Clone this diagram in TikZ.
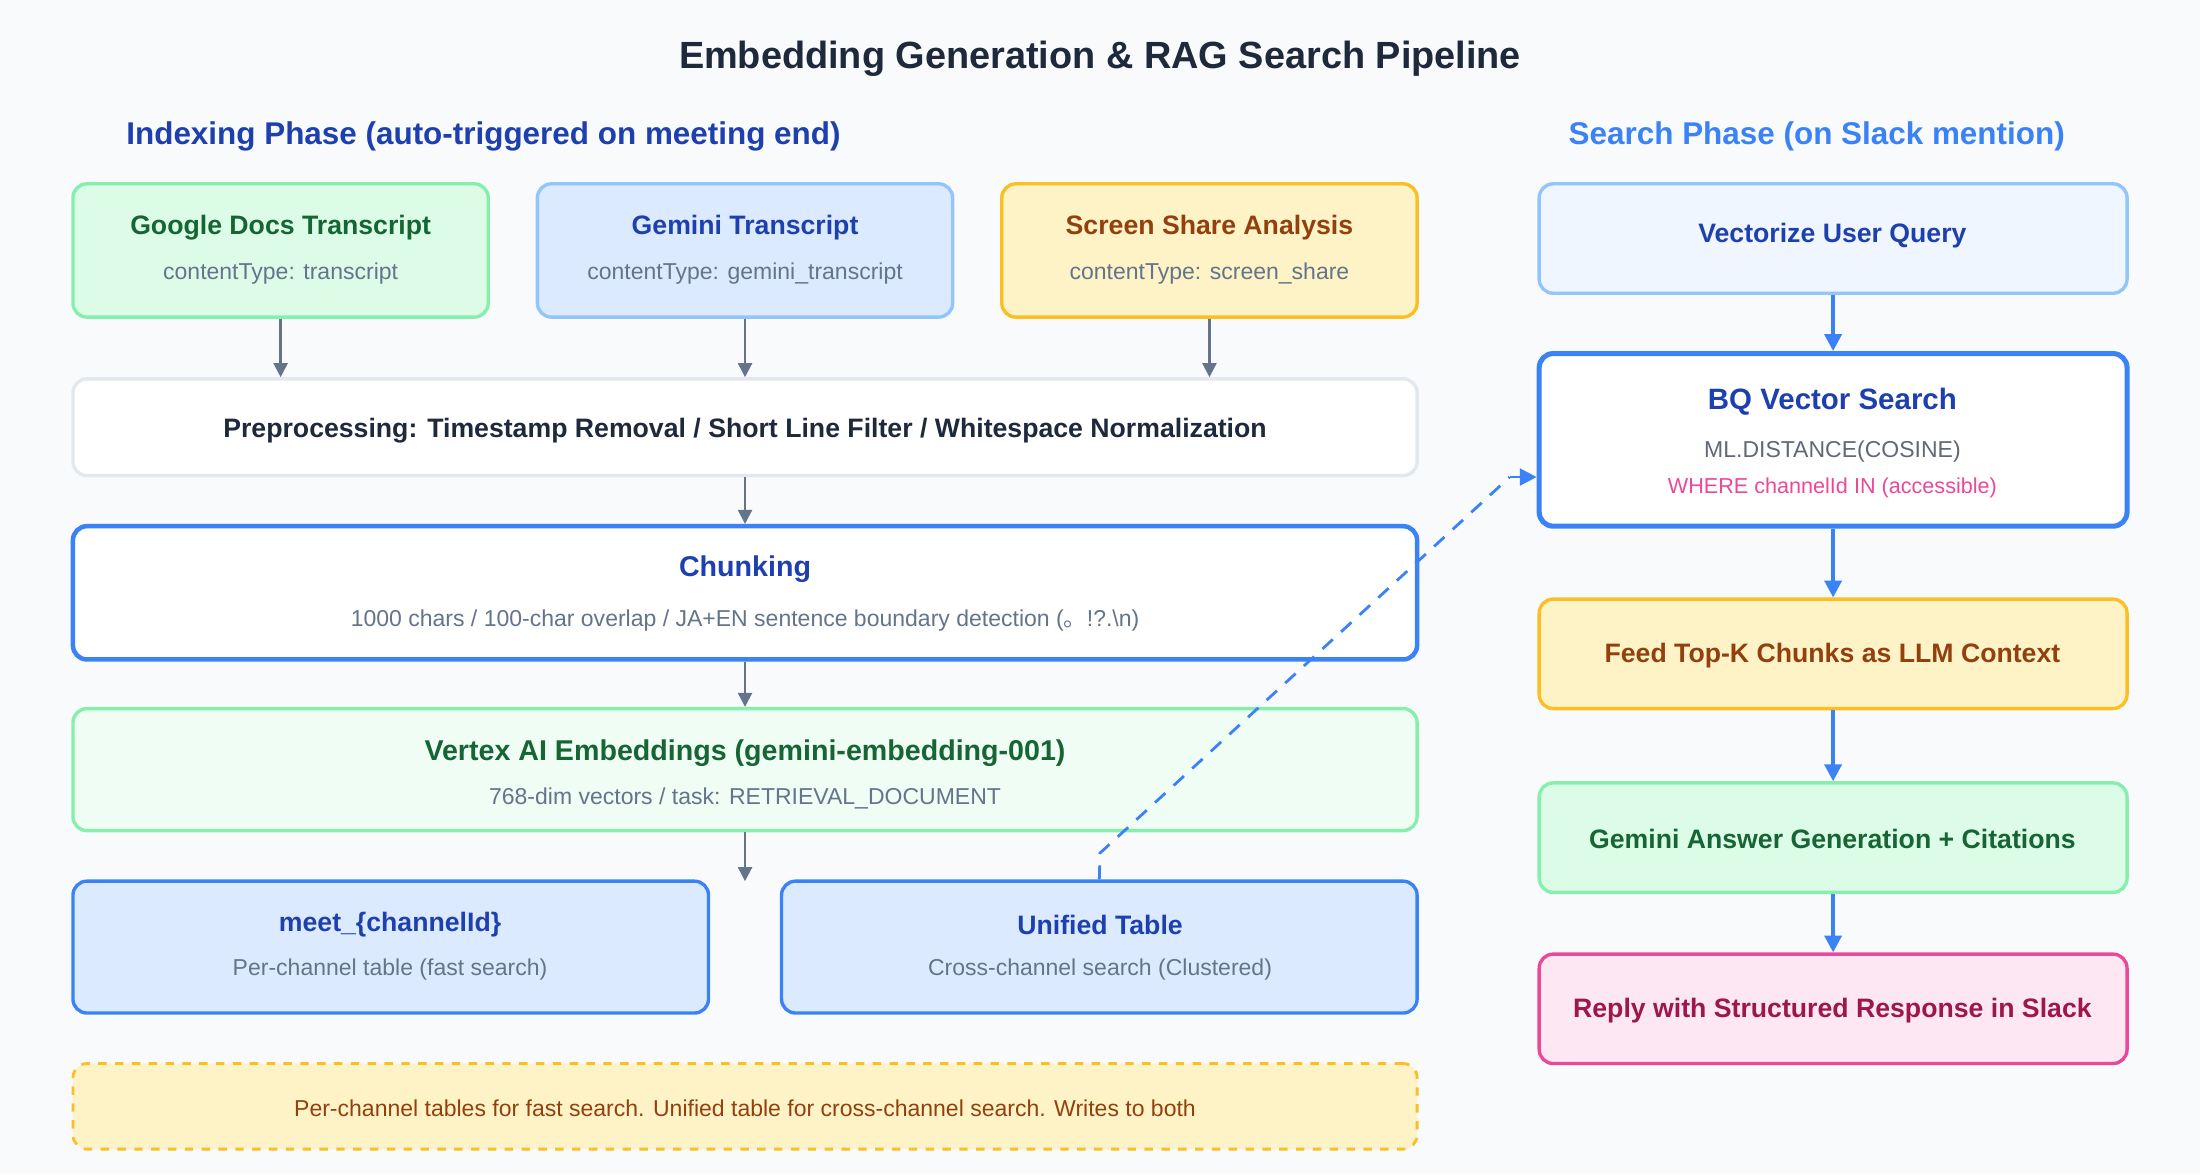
\documentclass[tikz,border=0pt]{standalone}
\usepackage{fontspec}
\setmainfont{Liberation Sans}
\newfontfamily\cjk{Noto Sans CJK JP}
\usetikzlibrary{arrows.meta}
\definecolor{bg}{HTML}{F8FAFC}
\definecolor{ink}{HTML}{1E293B}
\definecolor{sub}{HTML}{64748B}
\definecolor{dblue}{HTML}{1E40AF}
\definecolor{mblue}{HTML}{3B82F6}
\definecolor{lblue}{HTML}{93C5FD}
\definecolor{fblue}{HTML}{DBEAFE}
\definecolor{fblue2}{HTML}{EFF6FF}
\definecolor{dgreen}{HTML}{166534}
\definecolor{lgreen}{HTML}{86EFAC}
\definecolor{fgreen}{HTML}{DCFCE7}
\definecolor{fgreen2}{HTML}{F0FDF4}
\definecolor{dorange}{HTML}{92400E}
\definecolor{lorange}{HTML}{FBBF24}
\definecolor{forange}{HTML}{FEF3C7}
\definecolor{dpink}{HTML}{9D174D}
\definecolor{lpink}{HTML}{EC4899}
\definecolor{fpink}{HTML}{FCE7F3}
\definecolor{gline}{HTML}{E2E8F0}
\definecolor{garrow}{HTML}{64748B}
\tikzset{
 box/.style={rounded corners=5pt, draw, line width=1.2pt, inner sep=0pt},
 ttl/.style={font=\fontsize{9.5}{11}\selectfont\bfseries},
 sb/.style={font=\fontsize{8.2}{10}\selectfont, text=sub},
 garr/.style={-{Triangle[length=5pt,width=5pt]}, draw=garrow, line width=0.8pt},
 barr/.style={-{Triangle[length=6pt,width=6pt]}, draw=mblue, line width=1.4pt},
}
\newcommand{\bx}[6]{% name, x1,y1,x2,y2, style
 \node[box,#6,minimum width={(#4-#2)*0.5pt},minimum height={(#5-#3)*0.5pt}] (#1) at ({(#2+#4)/2},{(#3+#5)/2}) {};}
\begin{document}
\begin{tikzpicture}[x=0.5pt,y=-0.5pt]
\fill[bg] (0,0) rectangle (1568,837);
\useasboundingbox (0,0) rectangle (1568,837);
\node[font=\fontsize{13.5}{15}\selectfont\bfseries,text=ink] (title) at (784,42) {Embedding Generation \& RAG Search Pipeline};
\node[font=\fontsize{11.2}{13}\selectfont\bfseries,text=dblue,anchor=west] (ph1) at (83,97) {Indexing Phase (auto-triggered on meeting end)};
\node[font=\fontsize{11.2}{13}\selectfont\bfseries,text=mblue,anchor=west] (ph2) at (1111,97) {Search Phase (on Slack mention)};
\bx{gd}{52}{131}{348}{226}{draw=lgreen,fill=fgreen}
\bx{gt}{383}{131}{679}{226}{draw=lblue,fill=fblue}
\bx{ss}{714}{131}{1010}{226}{draw=lorange,fill=forange}
\node[ttl,text=dgreen] (gd1) at (200,162) {Google Docs Transcript};
\node[sb] (gd2) at (200,195) {contentType: transcript};
\node[ttl,text=dblue] (gt1) at (531,162) {Gemini Transcript};
\node[sb] (gt2) at (531,195) {contentType: gemini\_transcript};
\node[ttl,text=dorange] (ss1) at (862,162) {Screen Share Analysis};
\node[sb] (ss2) at (862,195) {contentType: screen\_share};
\bx{pp}{52}{270}{1010}{339}{draw=gline,fill=white}
\node[ttl,text=ink] (pp1) at (531,307) {Preprocessing: Timestamp Removal / Short Line Filter / Whitespace Normalization};
\bx{ch}{52}{375}{1010}{470}{draw=mblue,fill=white,line width=1.6pt}
\node[ttl,text=dblue,font=\fontsize{10.2}{12}\selectfont\bfseries] (ch1) at (531,406) {Chunking};
\node[sb] (ch2) at (531,442) {1000 chars / 100-char overlap / JA+EN sentence boundary detection ({\cjk 。}!?.\textbackslash n)};
\bx{vx}{52}{505}{1010}{592}{draw=lgreen,fill=fgreen2}
\node[ttl,text=dgreen,font=\fontsize{10.2}{12}\selectfont\bfseries] (vx1) at (531,537) {Vertex AI Embeddings (gemini-embedding-001)};
\node[sb] (vx2) at (531,569) {768-dim vectors / task: RETRIEVAL\_DOCUMENT};
\bx{mt}{52}{628}{505}{722}{draw=mblue,fill=fblue}
\node[ttl,text=dblue] (mt1) at (278,659) {meet\_\{channelId\}};
\node[sb] (mt2) at (278,691) {Per-channel table (fast search)};
\bx{ut}{557}{628}{1010}{722}{draw=mblue,fill=fblue}
\node[ttl,text=dblue] (ut1) at (784,659) {Unified Table};
\node[sb] (ut2) at (784,691) {Cross-channel search (Clustered)};
\node[rounded corners=5pt,draw=lorange,fill=forange,dashed,line width=1pt,minimum width=479pt,minimum height=30.5pt] (nt) at (531,788.5) {};
\node[sb,text=dorange] (nt1) at (531,790) {Per-channel tables for fast search. Unified table for cross-channel search. Writes to both};
\bx{vq}{1097}{131}{1516}{209}{draw=lblue,fill=fblue2}
\node[ttl,text=dblue] (vq1) at (1306,168) {Vectorize User Query};
\bx{bq}{1097}{252}{1516}{375}{draw=mblue,fill=white,line width=1.8pt}
\node[ttl,text=dblue,font=\fontsize{10.5}{12}\selectfont\bfseries] (bq1) at (1306,286) {BQ Vector Search};
\node[sb,text=ink!70] (bq2) at (1306,322) {ML.DISTANCE(COSINE)};
\node[sb,text=lpink,font=\fontsize{7.7}{9}\selectfont] (bq3) at (1306,348) {WHERE channelId IN (accessible)};
\bx{fd}{1097}{427}{1516}{505}{draw=lorange,fill=forange}
\node[ttl,text=dorange] (fd1) at (1306,467) {Feed Top-K Chunks as LLM Context};
\bx{ga}{1097}{558}{1516}{636}{draw=lgreen,fill=fgreen}
\node[ttl,text=dgreen] (ga1) at (1306,598) {Gemini Answer Generation + Citations};
\bx{rp}{1097}{680}{1516}{758}{draw=lpink,fill=fpink}
\node[ttl,text=dpink] (rp1) at (1306,720) {Reply with Structured Response in Slack};
\draw[garr] (gd.south) -- (gd.south |- pp.north);
\draw[garr] (gt.south) -- (gt.south |- pp.north);
\draw[garr] (ss.south) -- (ss.south |- pp.north);
\draw[garr] (pp.south) -- (ch.north);
\draw[garr] (ch.south) -- (vx.north);
\coordinate (vxe) at (531,628);
\draw[garr] (vx.south) -- (vxe);
\draw[barr] (vq) -- (bq);
\draw[barr] (bq) -- (fd);
\draw[barr] (fd) -- (ga);
\draw[barr] (ga) -- (rp);
\coordinate (bend) at (784,608);
\coordinate (bqin) at (1076,340);
\draw[draw=mblue, line width=1pt, dash pattern=on 5pt off 4pt] (ut.north) -- (bend) -- (bqin);
\draw[-{Triangle[length=6pt,width=6pt]}, draw=mblue, line width=1pt] (bqin) -- (bq.west |- bqin);
\end{tikzpicture}
\end{document}
